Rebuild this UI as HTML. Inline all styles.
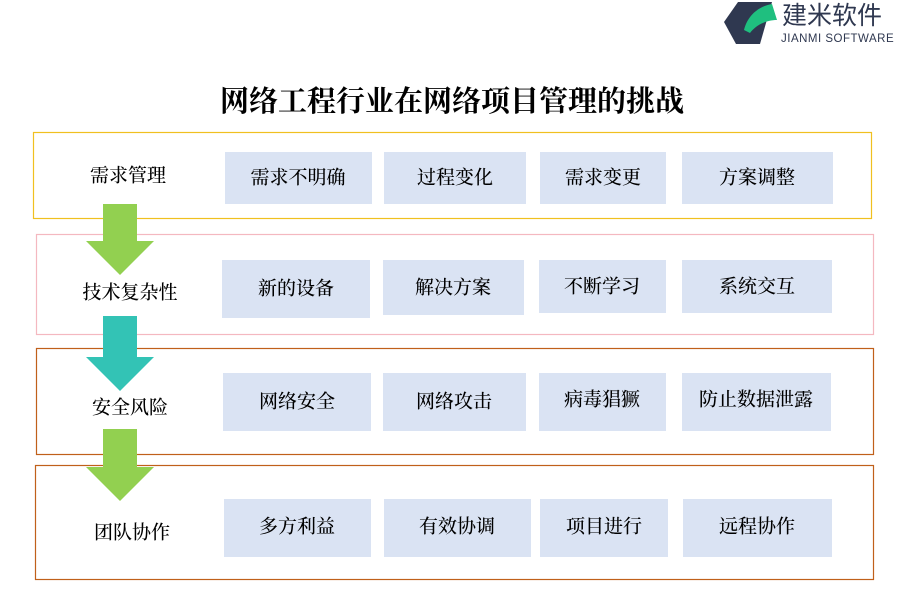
<!DOCTYPE html>
<html><head><meta charset="utf-8"><style>
html,body{margin:0;padding:0;background:#fff;}
svg{display:block}
text{font-family:"Liberation Serif","Noto Serif CJK SC","Noto Sans CJK SC",serif;fill:#000;font-weight:500}
.c{fill:#dae3f3}
.t{font-size:19px;text-anchor:middle;dominant-baseline:central}
</style></head><body>
<svg width="900" height="600" viewBox="0 0 900 600" xmlns="http://www.w3.org/2000/svg">
<!-- logo -->
<polygon points="738,2 772,2 760,44 736,44 724,22" fill="#2f3850"/>
<path d="M744,30 C748,14 760,6 772,4 L777,20 C766,20 756,25 750,33 Z" fill="#1fbf7f"/>
<text x="782" y="24" style="font-family:'Liberation Sans','Noto Sans CJK SC',sans-serif;font-size:25px;fill:#2f3850;font-weight:400">建米软件</text>
<text x="781" y="42" style="font-family:'Liberation Sans',sans-serif;font-size:11.5px;fill:#2f3850;letter-spacing:0.5px;font-weight:400">JIANMI SOFTWARE</text>
<!-- title -->
<text x="452" y="102" style="font-size:29px;text-anchor:middle;dominant-baseline:central;font-weight:bold">网络工程行业在网络项目管理的挑战</text>
<!-- row boxes -->
<rect x="33.5" y="132.5" width="838" height="86" fill="none" stroke="#f0c020" stroke-width="1.2"/>
<rect x="36.5" y="234.5" width="837" height="100" fill="none" stroke="#f4b8c0" stroke-width="1.2"/>
<rect x="36.5" y="348.5" width="837" height="106" fill="none" stroke="#c0601a" stroke-width="1.2"/>
<rect x="35.5" y="465.5" width="838" height="114" fill="none" stroke="#c0601a" stroke-width="1.2"/>
<!-- arrows -->
<polygon points="103,204 137,204 137,241 154,241 120,275 86,241 103,241" fill="#92d050"/>
<polygon points="103,316 137,316 137,357 154,357 120,391 86,357 103,357" fill="#33c3b5"/>
<polygon points="103,429 137,429 137,467 154,467 120,501 86,467 103,467" fill="#92d050"/>
<!-- labels -->
<text class="t" x="128" y="176">需求管理</text>
<text class="t" x="130" y="293">技术复杂性</text>
<text class="t" x="130" y="408">安全风险</text>
<text class="t" x="132" y="533">团队协作</text>
<!-- row1 -->
<rect class="c" x="225" y="152" width="147" height="52"/><text class="t" x="298" y="178">需求不明确</text>
<rect class="c" x="384" y="152" width="142" height="52"/><text class="t" x="455" y="178">过程变化</text>
<rect class="c" x="540" y="152" width="126" height="52"/><text class="t" x="603" y="178">需求变更</text>
<rect class="c" x="682" y="152" width="151" height="52"/><text class="t" x="757" y="178">方案调整</text>
<!-- row2 -->
<rect class="c" x="222" y="260" width="148" height="58"/><text class="t" x="296" y="289">新的设备</text>
<rect class="c" x="383" y="260" width="141" height="55"/><text class="t" x="453" y="288">解决方案</text>
<rect class="c" x="539" y="260" width="127" height="53"/><text class="t" x="602" y="287">不断学习</text>
<rect class="c" x="682" y="260" width="150" height="53"/><text class="t" x="757" y="287">系统交互</text>
<!-- row3 -->
<rect class="c" x="223" y="373" width="148" height="58"/><text class="t" x="297" y="402">网络安全</text>
<rect class="c" x="383" y="373" width="143" height="58"/><text class="t" x="454" y="402">网络攻击</text>
<rect class="c" x="539" y="373" width="127" height="58"/><text class="t" x="602" y="400">病毒猖獗</text>
<rect class="c" x="682" y="373" width="149" height="58"/><text class="t" x="756" y="400">防止数据泄露</text>
<!-- row4 -->
<rect class="c" x="224" y="499" width="147" height="58"/><text class="t" x="297" y="527">多方利益</text>
<rect class="c" x="384" y="499" width="147" height="58"/><text class="t" x="457" y="527">有效协调</text>
<rect class="c" x="540" y="499" width="128" height="58"/><text class="t" x="604" y="527">项目进行</text>
<rect class="c" x="683" y="499" width="149" height="58"/><text class="t" x="757" y="527">远程协作</text>
</svg>
</body></html>
